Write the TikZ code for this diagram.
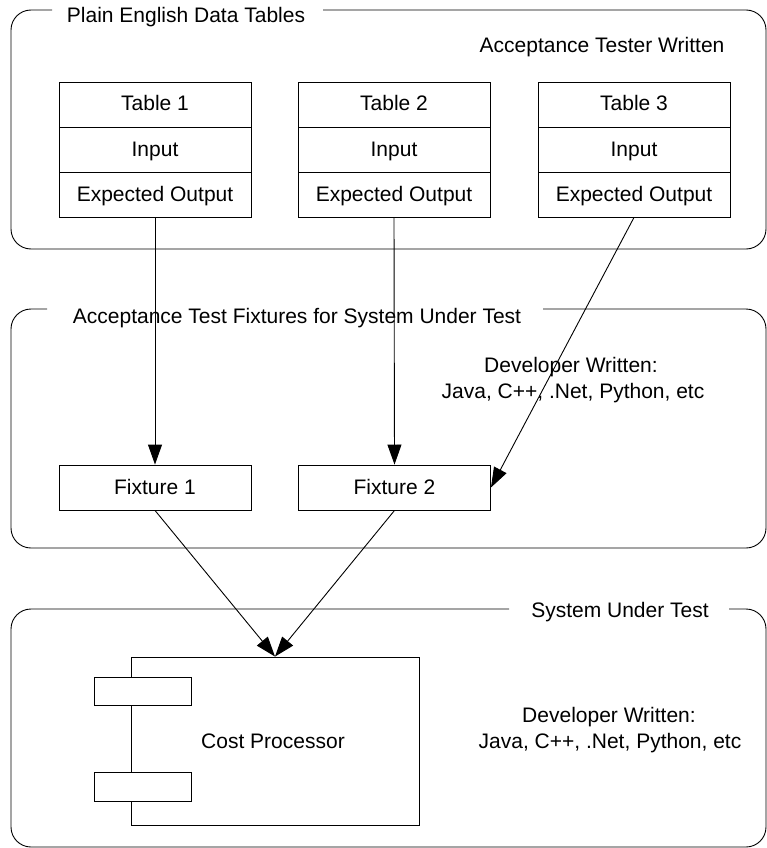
\documentclass[tikz,border=0pt]{standalone}
\usepackage{fontspec}
\setmainfont{Liberation Sans}
\usetikzlibrary{arrows.meta}
\begin{document}
\begin{tikzpicture}[x=1pt,y=-1pt,line width=0.9pt,
  every node/.style={font=\fontsize{21}{25}\selectfont},
  group/.style={draw,rounded corners=20pt},
  cell/.style={draw,minimum width=192pt,minimum height=45pt,text height=16pt,text depth=3pt,inner sep=0pt},
  label/.style={anchor=base,inner sep=0pt},
  conn/.style={-{Triangle[length=20pt,width=14pt]}}]
\useasboundingbox (0,0) rectangle (767,848);
% groups
\draw[group] (323,10) -- (766,10) -- (766,249) -- (11,249) -- (11,10) -- (52,10);
\node[label] (g1t) at (186,23) {Plain English Data Tables};
\node[label] (g1n) at (602,53) {Acceptance Tester Written};
\draw[group] (543,309) -- (766,309) -- (766,548) -- (11,548) -- (11,309) -- (47,309);
\node[label] (g2t) at (297,323) {Acceptance Test Fixtures for System Under Test};
\node[label] (g2n1) at (571,372) {Developer Written:};
\node[label] (g2n2) at (573,398) {Java, C++, .Net, Python, etc};
\draw[group] (729,609) -- (766,609) -- (766,847) -- (11,847) -- (11,609) -- (509,609);
\node[label] (g3t) at (620,617) {System Under Test};
\node[label] (g3n1) at (609,722) {Developer Written:};
\node[label] (g3n2) at (610,748) {Java, C++, .Net, Python, etc};
% tables
\foreach \i/\x in {1/155,2/394,3/634}{
  \node[cell] (t\i a) at (\x,104.5) {Table \i};
  \node[cell] (t\i b) at (\x,149.5) {Input};
  \node[cell] (t\i c) at (\x,194.5) {Expected Output};
}
% fixtures
\node[cell] (f1) at (155,487.5) {Fixture 1};
\node[cell] (f2) at (394.5,487.5) {Fixture 2};
% component
\node[draw,minimum width=288pt,minimum height=168pt,inner sep=0pt] (cp) at (275,741) {};
\node[label] (cpt) at (273,748) {Cost Processor};
\node[draw,fill=white,minimum width=97pt,minimum height=28pt,inner sep=0pt] (p1) at (142.5,691) {};
\node[draw,fill=white,minimum width=97pt,minimum height=29pt,inner sep=0pt] (p2) at (142.5,786.5) {};
% connectors
\draw[conn] (t1c.south) -- (f1.north);
\draw[conn] (t2c.south) -- (f2.north);
\draw[conn] (t3c.south) -- (f2.east);
\draw[conn] (f1.south) -- (cp.north);
\draw[conn] (f2.south) -- (cp.north);
\end{tikzpicture}
\end{document}
